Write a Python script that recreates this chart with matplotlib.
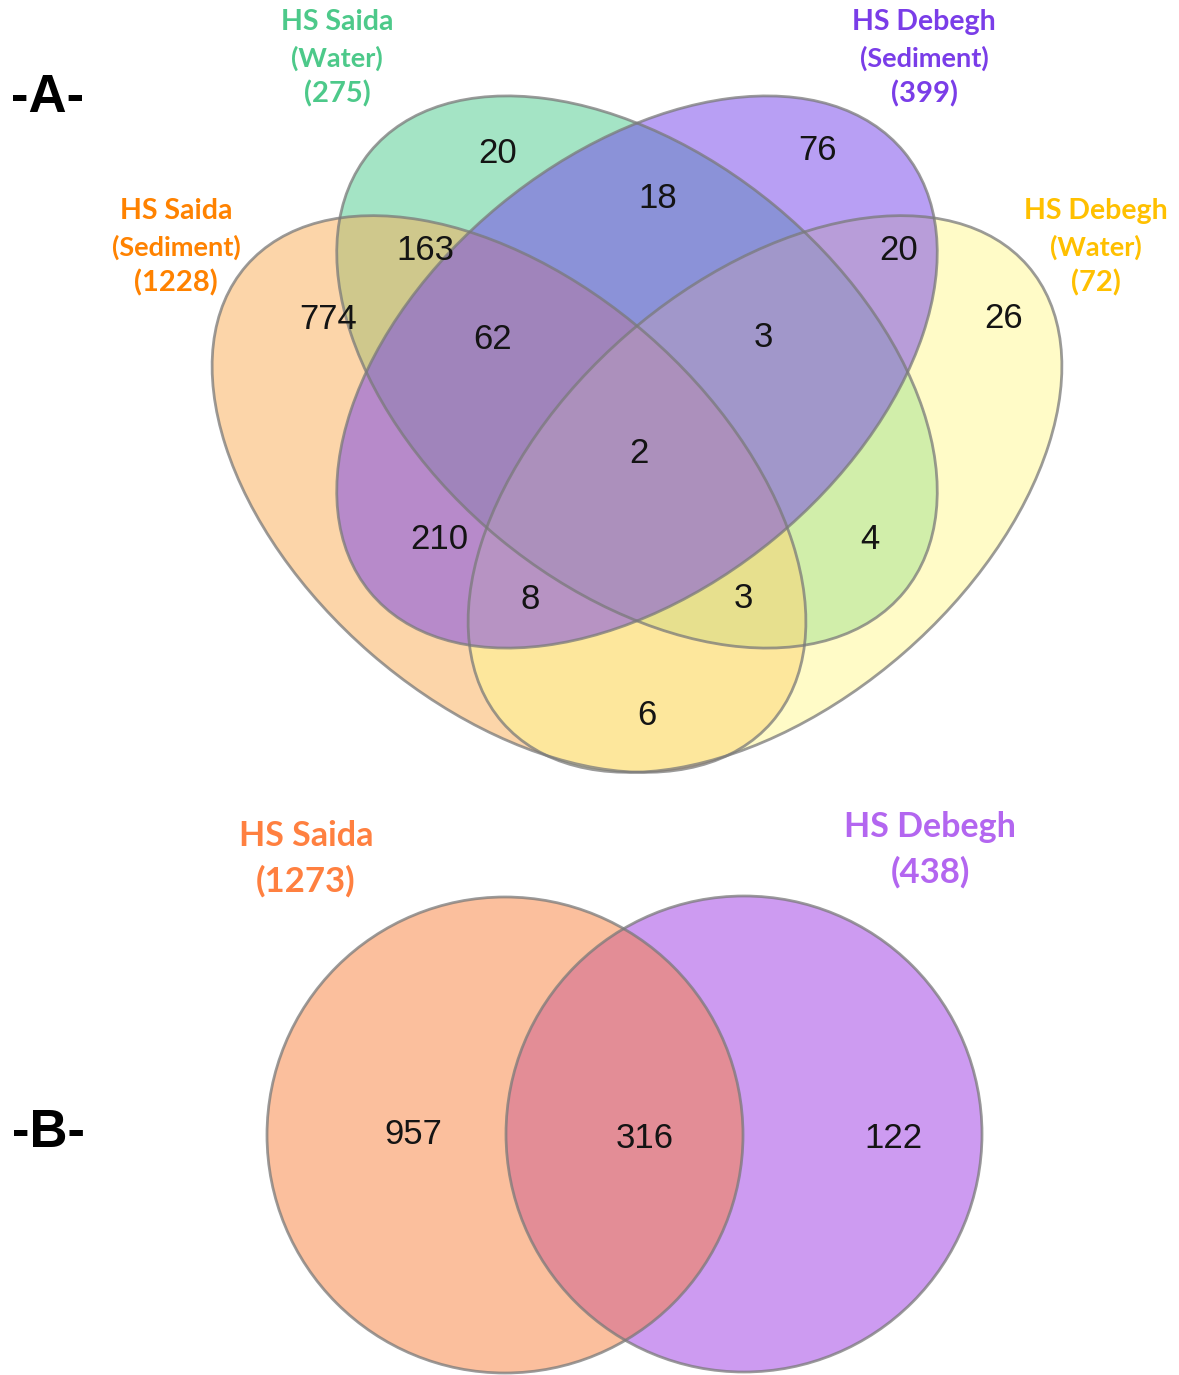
import matplotlib.pyplot as plt
from matplotlib.patches import Ellipse, Circle

# Données
# -A- : quatre échantillons
noms_a = ["HS Saida", "HS Saida", "HS Debegh", "HS Debegh"]
milieux_a = ["(Water)", "(Sediment)", "(Water)", "(Sediment)"]
totaux_a = [275, 1228, 72, 399]
# ordre de tracé : Saida eau, Saida sédiment, Debegh eau, Debegh sédiment
couleurs_a = ["#4BCB8C", "#FBAD55", "#FFF991", "#7341EB"]
couleurs_titres_a = ["#4DC98A", "#FF8200", "#FFC000", "#7A3DE8"]

# effectifs par région (lecture de la figure)
regions_a = {
    "Sw": 20, "Ds": 76, "Sw_Ds": 18, "Ss_Sw": 163, "Ds_Dw": 20,
    "Ss": 774, "Ss_Sw_Ds": 62, "Sw_Ds_Dw": 3, "Dw": 26, "tous": 2,
    "Ss_Ds": 210, "Sw_Dw": 4, "Ss_Ds_Dw": 8, "Ss_Sw_Dw": 3, "Ss_Dw": 6,
}

# -B- : deux sites
noms_b = ["HS Saida", "HS Debegh"]
totaux_b = [1273, 438]
regions_b = {"Saida": 957, "commun": 316, "Debegh": 122}

# Mise en page (pixels)
W, H = 1179, 1375
fig = plt.figure(figsize=(W / 100, H / 100), dpi=100)
ax = fig.add_axes([0, 0, 1, 1])
ax.set_xlim(0, W)
ax.set_ylim(H, 0)
ax.axis('off')

# ellipses : (centre x, centre y, largeur, hauteur, angle)
ellipses = [
    (637, 372, 692, 432, 39.5),    # Saida eau
    (509, 494, 696, 422, 41.0),    # Saida sédiment
    (765, 494, 696, 422, -41.0),   # Debegh eau
    (637, 372, 692, 432, -39.5),   # Debegh sédiment
]
for (cx, cy, w, h, ang), c in zip(ellipses, couleurs_a):
    ax.add_patch(Ellipse((cx, cy), w, h, angle=ang, facecolor=c, alpha=0.5, lw=0))
for (cx, cy, w, h, ang) in ellipses:
    ax.add_patch(Ellipse((cx, cy), w, h, angle=ang, fill=False,
                         edgecolor='#7a7a7a', alpha=0.75, lw=2))

pos_regions_a = {
    "Sw": (498, 150), "Ds": (818, 147), "Sw_Ds": (658, 195), "Ss_Sw": (425, 247),
    "Ds_Dw": (899, 247), "Ss": (328, 316), "Ss_Sw_Ds": (493, 336),
    "Sw_Ds_Dw": (763, 334), "Dw": (1004, 315), "tous": (639, 450),
    "Ss_Ds": (439, 536), "Sw_Dw": (870, 536), "Ss_Ds_Dw": (530, 596),
    "Ss_Sw_Dw": (743, 595), "Ss_Dw": (647, 712),
}
for k, v in regions_a.items():
    x, y = pos_regions_a[k]
    ax.text(x, y + 3, str(v), ha='center', va='center', fontsize=25,
            family='Liberation Sans', color='#141414')

# titres des ensembles
pos_titres_a = [(337, 22), (176, 211), (1096, 211), (924, 22)]
for (x, y), nom, mil, tot, c in zip(pos_titres_a, noms_a, milieux_a, totaux_a, couleurs_titres_a):
    ax.text(x, y, nom, ha='center', va='center', fontsize=20.5, family='Lato',
            fontweight='bold', color=c)
    ax.text(x, y + 36, mil, ha='center', va='center', fontsize=19.5, family='Lato',
            fontweight='bold', color=c)
    ax.text(x, y + 72, "(%d)" % tot, ha='center', va='center', fontsize=21,
            family='Lato', fontweight='bold', color=c)

# -B-
cercles = [(744, 1134, 238), (505, 1135, 238)]
couleurs_b = ["#9D39E5", "#F9813D"]
for (cx, cy, r), c in zip(cercles, couleurs_b):
    ax.add_patch(Circle((cx, cy), r, facecolor=c, alpha=0.5, lw=0))
for (cx, cy, r) in cercles:
    ax.add_patch(Circle((cx, cy), r, fill=False, edgecolor='#7a7a7a', alpha=0.75, lw=2))

pos_regions_b = {"Saida": (413, 1132), "commun": (645, 1135), "Debegh": (893, 1135)}
for k, v in regions_b.items():
    x, y = pos_regions_b[k]
    ax.text(x, y + 3, str(v), ha='center', va='center', fontsize=25,
            family='Liberation Sans', color='#141414')

pos_titres_b = [(306, 836), (930, 827)]
couleurs_titres_b = ["#FF8040", "#B366F0"]
for (x, y), nom, tot, c in zip(pos_titres_b, noms_b, totaux_b, couleurs_titres_b):
    ax.text(x, y, nom, ha='center', va='center', fontsize=24.5, family='Lato',
            fontweight='bold', color=c)
    ax.text(x, y + 45, "(%d)" % tot, ha='center', va='center', fontsize=25,
            family='Lato', fontweight='bold', color=c)

# étiquettes des panneaux
ax.text(48, 98, "-A-", ha='center', va='center', fontsize=38,
        family='Liberation Sans', fontweight='bold', color='black')
ax.text(48, 1133, "-B-", ha='center', va='center', fontsize=38,
        family='Liberation Sans', fontweight='bold', color='black')

fig.savefig('out.png', dpi=100)
